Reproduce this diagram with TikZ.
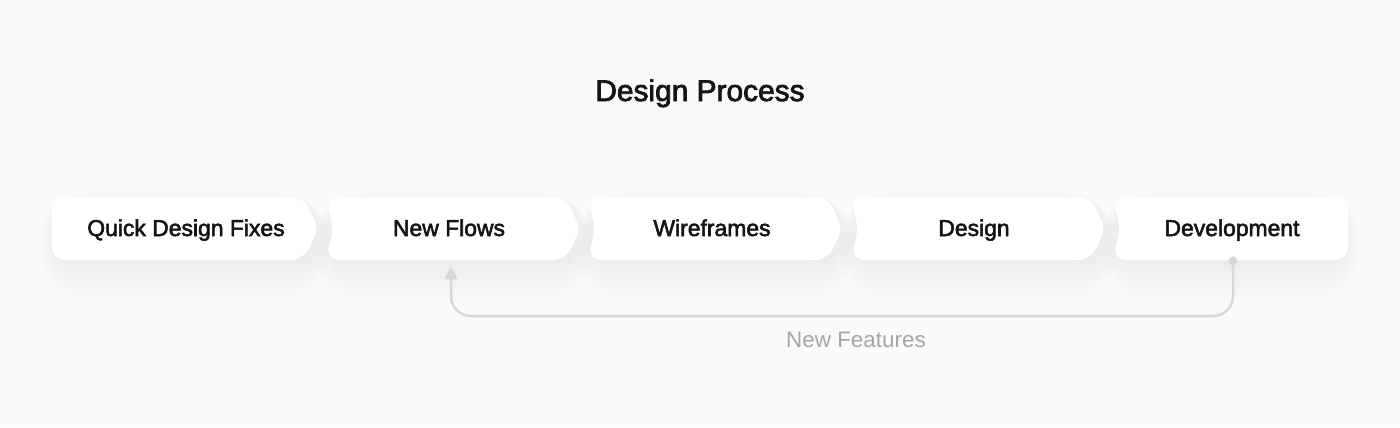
\documentclass[tikz,border=0pt]{standalone}
\usepackage{fontspec}
\setmainfont{Liberation Sans}
\newfontfamily\medfont{Liberation Sans}[FakeBold=2.4]
\usetikzlibrary{arrows.meta}
\definecolor{bgc}{RGB}{250,250,250}
\definecolor{linec}{RGB}{216,216,216}
\definecolor{txt}{RGB}{20,20,20}
\definecolor{subtxt}{RGB}{166,166,166}
\tikzset{
  boxlabel/.style={font=\medfont\fontsize{23}{27}\selectfont, text=txt, inner sep=0pt, anchor=base},
  titlelabel/.style={font=\medfont\fontsize{30}{34}\selectfont, text=txt, inner sep=0pt, anchor=base},
  featlabel/.style={font=\fontsize{22.5}{26}\selectfont, text=subtxt, inner sep=0pt, anchor=base},
  boxfill/.style={fill=white, rounded corners=13},
  conn/.style={draw=linec, line width=2.5, rounded corners=20},
}
% shadow: L R(tip)
\newcommand{\boxshadow}[2]{%
  \foreach \e in {0,3,...,39}{
    \fill[black, opacity=0.0045, rounded corners=14+\e] (#1+6-\e*0.5, 204-\e*0.3) rectangle (#2-6+\e*0.5, 262+\e);
  }}
\begin{document}
\begin{tikzpicture}[x=1bp,y=-1bp]
\fill[bgc] (0,0) rectangle (1400,427);
\useasboundingbox (0,0) rectangle (1400,427);

\node[titlelabel] (title) at (700,101) {Design Process};

% shadows
\boxshadow{52}{318}
\boxshadow{326}{580}
\boxshadow{588}{842}
\boxshadow{851}{1105}
\boxshadow{1113}{1348}

% boxes
\path[boxfill] (52,197) -- (304,197) [rounded corners=7]-- (318,228.5) [rounded corners=13]-- (304,260) -- (52,260) -- cycle;
\path[boxfill] (326,197) -- (566,197) [rounded corners=7]-- (580,228.5) [rounded corners=13]-- (566,260) -- (326,260) [rounded corners=8]-- (333,228.5) [rounded corners=13]-- cycle;
\path[boxfill] (588,197) -- (828,197) [rounded corners=7]-- (842,228.5) [rounded corners=13]-- (828,260) -- (588,260) [rounded corners=8]-- (595,228.5) [rounded corners=13]-- cycle;
\path[boxfill] (851,197) -- (1091,197) [rounded corners=7]-- (1105,228.5) [rounded corners=13]-- (1091,260) -- (851,260) [rounded corners=8]-- (858,228.5) [rounded corners=13]-- cycle;
\path[boxfill] (1113,197) -- (1348,197) -- (1348,260) -- (1113,260) [rounded corners=8]-- (1120,228.5) [rounded corners=13]-- cycle;

\node[boxlabel] (b1) at (186,236) {Quick Design Fixes};
\node[boxlabel] (b2) at (449,236) {New Flows};
\node[boxlabel] (b3) at (712,236) {Wireframes};
\node[boxlabel] (b4) at (974,236) {Design};
\node[boxlabel] (b5) at (1232,236) {Development};

% connector
\coordinate (dot) at (1233,261);
\coordinate (tip) at (451,268);
\coordinate (corner) at (451,316);
\draw[conn, -{Triangle[width=13,length=13,round]}] (dot) -- (dot |- corner) -- (corner) -- (tip);
\fill[linec] (dot) circle (4.5);

\node[featlabel] (feat) at (856,347) {New Features};
\end{tikzpicture}
\end{document}
